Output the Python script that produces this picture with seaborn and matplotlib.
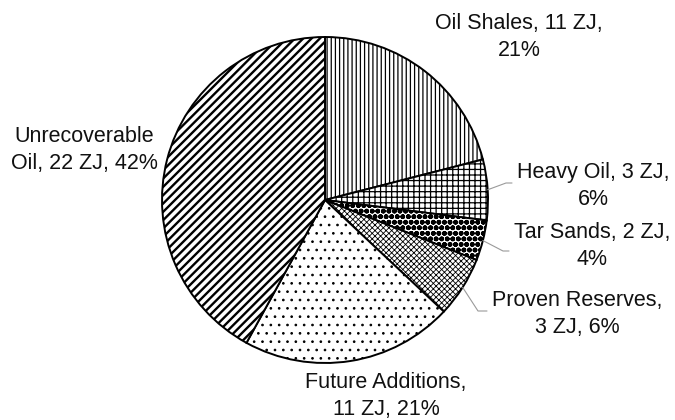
import numpy as np
import matplotlib
matplotlib.use("Agg")
import matplotlib.pyplot as plt
import seaborn as sns

categories = ["Oil Shales", "Heavy Oil", "Tar Sands", "Proven Reserves",
              "Future Additions", "Unrecoverable Oil"]
energy_zj = [11, 3, 2, 3, 11, 22]
percent = [21, 6, 4, 6, 21, 42]
label_texts = ["Oil Shales, 11 ZJ,\n21%", "Heavy Oil, 3 ZJ,\n6%",
               "Tar Sands, 2 ZJ,\n4%", "Proven Reserves,\n3 ZJ, 6%",
               "Future Additions,\n11 ZJ, 21%", "Unrecoverable\nOil, 22 ZJ, 42%"]

sns.set_theme(style="white")
plt.rcParams["font.family"] = ["Liberation Sans", "DejaVu Sans"]
plt.rcParams["hatch.linewidth"] = 0.9

W, H = 675, 420
fig = plt.figure(figsize=(W / 100, H / 100), dpi=100)
fig.patch.set_facecolor("white")
cx, cy, r = 325, 200, 163
ax = fig.add_axes([(cx - r) / W, (H - cy - r) / H, 2 * r / W, 2 * r / H])

hatches = ["||||", "+++", "ooo", "xxxxxx", "..", "////"]
hatch_lw = [0.9, 0.9, 1.8, 0.6, 0.7, 1.7]
wedges, _ = ax.pie(percent, startangle=90, counterclock=False, radius=1,
                   colors=["white"] * len(percent),
                   wedgeprops=dict(edgecolor="black", linewidth=1.4))
ax.set_xlim(-1, 1)
ax.set_ylim(-1, 1)
ax.set_aspect("auto")
ax.axis("off")
for w, h, lw in zip(wedges, hatches, hatch_lw):
    w.set_hatch(h)
    if hasattr(w, "set_hatch_linewidth"):
        w.set_hatch_linewidth(lw)

def px(x, y):
    return (x - cx) / r, (cy - y) / r

label_px = [(519, 37), (593, 186), (592, 246), (577, 314), (386, 396), (84, 150)]
for txt, (lx, ly) in zip(label_texts, label_px):
    dx, dy = px(lx, ly)
    ax.text(dx, dy, txt, ha="center", va="center", fontsize=15.5,
            color="#111111", linespacing=1.32, clip_on=False)

# leader lines for the small wedges
leaders = {1: [(506, 183), (512, 183)], 2: [(503, 251), (509, 251)],
           3: [(478, 311), (487, 311)]}
for i, pts in leaders.items():
    w = wedges[i]
    mid = np.deg2rad((w.theta1 + w.theta2) / 2)
    xs = [np.cos(mid)] + [px(*p)[0] for p in pts]
    ys = [np.sin(mid)] + [px(*p)[1] for p in pts]
    ax.plot(xs, ys, color="#9a9a9a", lw=0.8, clip_on=False)

fig.savefig("out.png", dpi=100, facecolor="white")
